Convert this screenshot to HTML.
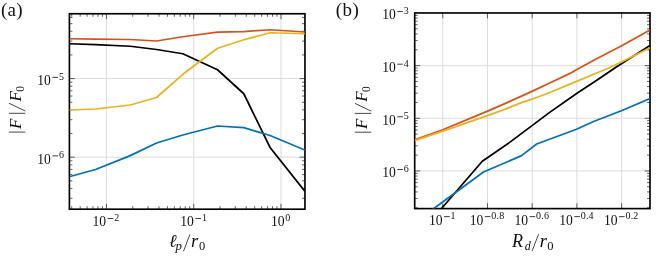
<!DOCTYPE html>
<html><head><meta charset="utf-8"><title>plot</title>
<style>
html,body{margin:0;padding:0;background:#fff;}
body{width:664px;height:260px;overflow:hidden;font-family:"Liberation Serif",serif;}
svg{display:block;will-change:transform;}
text{font-family:"Liberation Serif",serif;fill:#111;}
.it{font-style:italic;}
</style></head><body>
<svg width="664" height="260" viewBox="0 0 664 260">
<rect x="0" y="0" width="664" height="260" fill="#ffffff"/>
<clipPath id="clip1"><rect x="69.4" y="13.75" width="235.55" height="195.45"/></clipPath>
<line x1="106.45" y1="13.75" x2="106.45" y2="209.2" stroke="#dcdcdc" stroke-width="1"/>
<line x1="193.71" y1="13.75" x2="193.71" y2="209.2" stroke="#dcdcdc" stroke-width="1"/>
<line x1="280.97" y1="13.75" x2="280.97" y2="209.2" stroke="#dcdcdc" stroke-width="1"/>
<line x1="69.4" y1="78.6" x2="304.95" y2="78.6" stroke="#dcdcdc" stroke-width="1"/>
<line x1="69.4" y1="157.2" x2="304.95" y2="157.2" stroke="#dcdcdc" stroke-width="1"/>
<line x1="106.45" y1="209.2" x2="106.45" y2="203.8" stroke="#222" stroke-width="0.7"/>
<line x1="106.45" y1="13.75" x2="106.45" y2="19.15" stroke="#222" stroke-width="0.7"/>
<line x1="193.71" y1="209.2" x2="193.71" y2="203.8" stroke="#222" stroke-width="0.7"/>
<line x1="193.71" y1="13.75" x2="193.71" y2="19.15" stroke="#222" stroke-width="0.7"/>
<line x1="280.97" y1="209.2" x2="280.97" y2="203.8" stroke="#222" stroke-width="0.7"/>
<line x1="280.97" y1="13.75" x2="280.97" y2="19.15" stroke="#222" stroke-width="0.7"/>
<line x1="71.73" y1="209.2" x2="71.73" y2="206.2" stroke="#222" stroke-width="0.7"/>
<line x1="71.73" y1="13.75" x2="71.73" y2="16.75" stroke="#222" stroke-width="0.7"/>
<line x1="80.18" y1="209.2" x2="80.18" y2="206.2" stroke="#222" stroke-width="0.7"/>
<line x1="80.18" y1="13.75" x2="80.18" y2="16.75" stroke="#222" stroke-width="0.7"/>
<line x1="87.09" y1="209.2" x2="87.09" y2="206.2" stroke="#222" stroke-width="0.7"/>
<line x1="87.09" y1="13.75" x2="87.09" y2="16.75" stroke="#222" stroke-width="0.7"/>
<line x1="92.93" y1="209.2" x2="92.93" y2="206.2" stroke="#222" stroke-width="0.7"/>
<line x1="92.93" y1="13.75" x2="92.93" y2="16.75" stroke="#222" stroke-width="0.7"/>
<line x1="97.99" y1="209.2" x2="97.99" y2="206.2" stroke="#222" stroke-width="0.7"/>
<line x1="97.99" y1="13.75" x2="97.99" y2="16.75" stroke="#222" stroke-width="0.7"/>
<line x1="102.46" y1="209.2" x2="102.46" y2="206.2" stroke="#222" stroke-width="0.7"/>
<line x1="102.46" y1="13.75" x2="102.46" y2="16.75" stroke="#222" stroke-width="0.7"/>
<line x1="132.72" y1="209.2" x2="132.72" y2="206.2" stroke="#222" stroke-width="0.7"/>
<line x1="132.72" y1="13.75" x2="132.72" y2="16.75" stroke="#222" stroke-width="0.7"/>
<line x1="148.08" y1="209.2" x2="148.08" y2="206.2" stroke="#222" stroke-width="0.7"/>
<line x1="148.08" y1="13.75" x2="148.08" y2="16.75" stroke="#222" stroke-width="0.7"/>
<line x1="158.99" y1="209.2" x2="158.99" y2="206.2" stroke="#222" stroke-width="0.7"/>
<line x1="158.99" y1="13.75" x2="158.99" y2="16.75" stroke="#222" stroke-width="0.7"/>
<line x1="167.44" y1="209.2" x2="167.44" y2="206.2" stroke="#222" stroke-width="0.7"/>
<line x1="167.44" y1="13.75" x2="167.44" y2="16.75" stroke="#222" stroke-width="0.7"/>
<line x1="174.35" y1="209.2" x2="174.35" y2="206.2" stroke="#222" stroke-width="0.7"/>
<line x1="174.35" y1="13.75" x2="174.35" y2="16.75" stroke="#222" stroke-width="0.7"/>
<line x1="180.19" y1="209.2" x2="180.19" y2="206.2" stroke="#222" stroke-width="0.7"/>
<line x1="180.19" y1="13.75" x2="180.19" y2="16.75" stroke="#222" stroke-width="0.7"/>
<line x1="185.25" y1="209.2" x2="185.25" y2="206.2" stroke="#222" stroke-width="0.7"/>
<line x1="185.25" y1="13.75" x2="185.25" y2="16.75" stroke="#222" stroke-width="0.7"/>
<line x1="189.72" y1="209.2" x2="189.72" y2="206.2" stroke="#222" stroke-width="0.7"/>
<line x1="189.72" y1="13.75" x2="189.72" y2="16.75" stroke="#222" stroke-width="0.7"/>
<line x1="219.98" y1="209.2" x2="219.98" y2="206.2" stroke="#222" stroke-width="0.7"/>
<line x1="219.98" y1="13.75" x2="219.98" y2="16.75" stroke="#222" stroke-width="0.7"/>
<line x1="235.34" y1="209.2" x2="235.34" y2="206.2" stroke="#222" stroke-width="0.7"/>
<line x1="235.34" y1="13.75" x2="235.34" y2="16.75" stroke="#222" stroke-width="0.7"/>
<line x1="246.25" y1="209.2" x2="246.25" y2="206.2" stroke="#222" stroke-width="0.7"/>
<line x1="246.25" y1="13.75" x2="246.25" y2="16.75" stroke="#222" stroke-width="0.7"/>
<line x1="254.7" y1="209.2" x2="254.7" y2="206.2" stroke="#222" stroke-width="0.7"/>
<line x1="254.7" y1="13.75" x2="254.7" y2="16.75" stroke="#222" stroke-width="0.7"/>
<line x1="261.61" y1="209.2" x2="261.61" y2="206.2" stroke="#222" stroke-width="0.7"/>
<line x1="261.61" y1="13.75" x2="261.61" y2="16.75" stroke="#222" stroke-width="0.7"/>
<line x1="267.45" y1="209.2" x2="267.45" y2="206.2" stroke="#222" stroke-width="0.7"/>
<line x1="267.45" y1="13.75" x2="267.45" y2="16.75" stroke="#222" stroke-width="0.7"/>
<line x1="272.51" y1="209.2" x2="272.51" y2="206.2" stroke="#222" stroke-width="0.7"/>
<line x1="272.51" y1="13.75" x2="272.51" y2="16.75" stroke="#222" stroke-width="0.7"/>
<line x1="276.98" y1="209.2" x2="276.98" y2="206.2" stroke="#222" stroke-width="0.7"/>
<line x1="276.98" y1="13.75" x2="276.98" y2="16.75" stroke="#222" stroke-width="0.7"/>
<line x1="69.4" y1="78.6" x2="74.8" y2="78.6" stroke="#222" stroke-width="0.7"/>
<line x1="304.95" y1="78.6" x2="299.55" y2="78.6" stroke="#222" stroke-width="0.7"/>
<line x1="69.4" y1="157.2" x2="74.8" y2="157.2" stroke="#222" stroke-width="0.7"/>
<line x1="304.95" y1="157.2" x2="299.55" y2="157.2" stroke="#222" stroke-width="0.7"/>
<line x1="69.4" y1="198.3" x2="72.4" y2="198.3" stroke="#222" stroke-width="0.7"/>
<line x1="304.95" y1="198.3" x2="301.95" y2="198.3" stroke="#222" stroke-width="0.7"/>
<line x1="69.4" y1="188.48" x2="72.4" y2="188.48" stroke="#222" stroke-width="0.7"/>
<line x1="304.95" y1="188.48" x2="301.95" y2="188.48" stroke="#222" stroke-width="0.7"/>
<line x1="69.4" y1="180.86" x2="72.4" y2="180.86" stroke="#222" stroke-width="0.7"/>
<line x1="304.95" y1="180.86" x2="301.95" y2="180.86" stroke="#222" stroke-width="0.7"/>
<line x1="69.4" y1="174.64" x2="72.4" y2="174.64" stroke="#222" stroke-width="0.7"/>
<line x1="304.95" y1="174.64" x2="301.95" y2="174.64" stroke="#222" stroke-width="0.7"/>
<line x1="69.4" y1="169.38" x2="72.4" y2="169.38" stroke="#222" stroke-width="0.7"/>
<line x1="304.95" y1="169.38" x2="301.95" y2="169.38" stroke="#222" stroke-width="0.7"/>
<line x1="69.4" y1="164.82" x2="72.4" y2="164.82" stroke="#222" stroke-width="0.7"/>
<line x1="304.95" y1="164.82" x2="301.95" y2="164.82" stroke="#222" stroke-width="0.7"/>
<line x1="69.4" y1="160.8" x2="72.4" y2="160.8" stroke="#222" stroke-width="0.7"/>
<line x1="304.95" y1="160.8" x2="301.95" y2="160.8" stroke="#222" stroke-width="0.7"/>
<line x1="69.4" y1="133.54" x2="72.4" y2="133.54" stroke="#222" stroke-width="0.7"/>
<line x1="304.95" y1="133.54" x2="301.95" y2="133.54" stroke="#222" stroke-width="0.7"/>
<line x1="69.4" y1="119.7" x2="72.4" y2="119.7" stroke="#222" stroke-width="0.7"/>
<line x1="304.95" y1="119.7" x2="301.95" y2="119.7" stroke="#222" stroke-width="0.7"/>
<line x1="69.4" y1="109.88" x2="72.4" y2="109.88" stroke="#222" stroke-width="0.7"/>
<line x1="304.95" y1="109.88" x2="301.95" y2="109.88" stroke="#222" stroke-width="0.7"/>
<line x1="69.4" y1="102.26" x2="72.4" y2="102.26" stroke="#222" stroke-width="0.7"/>
<line x1="304.95" y1="102.26" x2="301.95" y2="102.26" stroke="#222" stroke-width="0.7"/>
<line x1="69.4" y1="96.04" x2="72.4" y2="96.04" stroke="#222" stroke-width="0.7"/>
<line x1="304.95" y1="96.04" x2="301.95" y2="96.04" stroke="#222" stroke-width="0.7"/>
<line x1="69.4" y1="90.78" x2="72.4" y2="90.78" stroke="#222" stroke-width="0.7"/>
<line x1="304.95" y1="90.78" x2="301.95" y2="90.78" stroke="#222" stroke-width="0.7"/>
<line x1="69.4" y1="86.22" x2="72.4" y2="86.22" stroke="#222" stroke-width="0.7"/>
<line x1="304.95" y1="86.22" x2="301.95" y2="86.22" stroke="#222" stroke-width="0.7"/>
<line x1="69.4" y1="82.2" x2="72.4" y2="82.2" stroke="#222" stroke-width="0.7"/>
<line x1="304.95" y1="82.2" x2="301.95" y2="82.2" stroke="#222" stroke-width="0.7"/>
<line x1="69.4" y1="54.94" x2="72.4" y2="54.94" stroke="#222" stroke-width="0.7"/>
<line x1="304.95" y1="54.94" x2="301.95" y2="54.94" stroke="#222" stroke-width="0.7"/>
<line x1="69.4" y1="41.1" x2="72.4" y2="41.1" stroke="#222" stroke-width="0.7"/>
<line x1="304.95" y1="41.1" x2="301.95" y2="41.1" stroke="#222" stroke-width="0.7"/>
<line x1="69.4" y1="31.28" x2="72.4" y2="31.28" stroke="#222" stroke-width="0.7"/>
<line x1="304.95" y1="31.28" x2="301.95" y2="31.28" stroke="#222" stroke-width="0.7"/>
<line x1="69.4" y1="23.66" x2="72.4" y2="23.66" stroke="#222" stroke-width="0.7"/>
<line x1="304.95" y1="23.66" x2="301.95" y2="23.66" stroke="#222" stroke-width="0.7"/>
<line x1="69.4" y1="17.44" x2="72.4" y2="17.44" stroke="#222" stroke-width="0.7"/>
<line x1="304.95" y1="17.44" x2="301.95" y2="17.44" stroke="#222" stroke-width="0.7"/>
<rect x="69.4" y="13.75" width="235.55" height="195.45" fill="none" stroke="#000" stroke-width="1.65"/>
<polyline points="69.28,43.75 95.55,44.6 130.27,46.25 156.54,49.5 182.81,53.75 217.53,69.75 243.8,93.75 270.07,147.5 304.79,191.25" fill="none" stroke="#000000" stroke-width="1.75" stroke-linejoin="round" stroke-linecap="butt" clip-path="url(#clip1)"/>
<polyline points="69.28,176.75 95.55,169.5 130.27,155.6 156.54,143 182.81,135 217.53,126 243.8,127.7 270.07,135.5 304.79,150" fill="none" stroke="#0072BD" stroke-width="1.75" stroke-linejoin="round" stroke-linecap="butt" clip-path="url(#clip1)"/>
<polyline points="69.28,38.75 95.55,39.1 130.27,39.5 156.54,41 182.81,36.75 217.53,32.2 243.8,31.6 270.07,29.75 304.79,32" fill="none" stroke="#D95319" stroke-width="1.75" stroke-linejoin="round" stroke-linecap="butt" clip-path="url(#clip1)"/>
<polyline points="69.28,110 95.55,109 130.27,105 156.54,97.5 182.81,74.3 217.53,48.25 243.8,39.75 270.07,32.75 304.79,33.75" fill="none" stroke="#EDB120" stroke-width="1.75" stroke-linejoin="round" stroke-linecap="butt" clip-path="url(#clip1)"/>
<text x="92.55" y="226.4" font-size="14.2px" textLength="13.6" lengthAdjust="spacingAndGlyphs">10</text><rect x="107.65" y="218.1" width="5.6" height="0.8" fill="#111"/><text x="114.15" y="220.9" font-size="10px">2</text>
<text x="180.31" y="226.4" font-size="14.2px" textLength="13.6" lengthAdjust="spacingAndGlyphs">10</text><rect x="195.41" y="218.1" width="5.6" height="0.8" fill="#111"/><text x="201.91" y="220.9" font-size="10px">1</text>
<text x="37.3" y="85.2" font-size="14.2px" textLength="13.6" lengthAdjust="spacingAndGlyphs">10</text><rect x="52.4" y="76.9" width="5.6" height="0.8" fill="#111"/><text x="58.9" y="79.7" font-size="10px">5</text>
<text x="37.3" y="163.8" font-size="14.2px" textLength="13.6" lengthAdjust="spacingAndGlyphs">10</text><rect x="52.4" y="155.5" width="5.6" height="0.8" fill="#111"/><text x="58.9" y="158.3" font-size="10px">6</text>
<text x="270.97" y="226.4" font-size="14.2px" textLength="13.6" lengthAdjust="spacingAndGlyphs">10</text><text x="285.17" y="220.9" font-size="10px">0</text>
<clipPath id="clip2"><rect x="414.7" y="12.96" width="235.3" height="195.64"/></clipPath>
<line x1="442.75" y1="12.96" x2="442.75" y2="208.6" stroke="#dcdcdc" stroke-width="1"/>
<line x1="487.47" y1="12.96" x2="487.47" y2="208.6" stroke="#dcdcdc" stroke-width="1"/>
<line x1="532.19" y1="12.96" x2="532.19" y2="208.6" stroke="#dcdcdc" stroke-width="1"/>
<line x1="576.91" y1="12.96" x2="576.91" y2="208.6" stroke="#dcdcdc" stroke-width="1"/>
<line x1="621.63" y1="12.96" x2="621.63" y2="208.6" stroke="#dcdcdc" stroke-width="1"/>
<line x1="414.7" y1="65.65" x2="650" y2="65.65" stroke="#dcdcdc" stroke-width="1"/>
<line x1="414.7" y1="118.3" x2="650" y2="118.3" stroke="#dcdcdc" stroke-width="1"/>
<line x1="414.7" y1="170.95" x2="650" y2="170.95" stroke="#dcdcdc" stroke-width="1"/>
<line x1="442.75" y1="208.6" x2="442.75" y2="203.2" stroke="#222" stroke-width="0.7"/>
<line x1="442.75" y1="12.96" x2="442.75" y2="18.36" stroke="#222" stroke-width="0.7"/>
<line x1="487.47" y1="208.6" x2="487.47" y2="203.2" stroke="#222" stroke-width="0.7"/>
<line x1="487.47" y1="12.96" x2="487.47" y2="18.36" stroke="#222" stroke-width="0.7"/>
<line x1="532.19" y1="208.6" x2="532.19" y2="203.2" stroke="#222" stroke-width="0.7"/>
<line x1="532.19" y1="12.96" x2="532.19" y2="18.36" stroke="#222" stroke-width="0.7"/>
<line x1="576.91" y1="208.6" x2="576.91" y2="203.2" stroke="#222" stroke-width="0.7"/>
<line x1="576.91" y1="12.96" x2="576.91" y2="18.36" stroke="#222" stroke-width="0.7"/>
<line x1="621.63" y1="208.6" x2="621.63" y2="203.2" stroke="#222" stroke-width="0.7"/>
<line x1="621.63" y1="12.96" x2="621.63" y2="18.36" stroke="#222" stroke-width="0.7"/>
<line x1="414.7" y1="65.65" x2="420.1" y2="65.65" stroke="#222" stroke-width="0.7"/>
<line x1="650" y1="65.65" x2="644.6" y2="65.65" stroke="#222" stroke-width="0.7"/>
<line x1="414.7" y1="118.3" x2="420.1" y2="118.3" stroke="#222" stroke-width="0.7"/>
<line x1="650" y1="118.3" x2="644.6" y2="118.3" stroke="#222" stroke-width="0.7"/>
<line x1="414.7" y1="170.95" x2="420.1" y2="170.95" stroke="#222" stroke-width="0.7"/>
<line x1="650" y1="170.95" x2="644.6" y2="170.95" stroke="#222" stroke-width="0.7"/>
<line x1="414.7" y1="207.75" x2="417.7" y2="207.75" stroke="#222" stroke-width="0.7"/>
<line x1="650" y1="207.75" x2="647" y2="207.75" stroke="#222" stroke-width="0.7"/>
<line x1="414.7" y1="198.48" x2="417.7" y2="198.48" stroke="#222" stroke-width="0.7"/>
<line x1="650" y1="198.48" x2="647" y2="198.48" stroke="#222" stroke-width="0.7"/>
<line x1="414.7" y1="191.9" x2="417.7" y2="191.9" stroke="#222" stroke-width="0.7"/>
<line x1="650" y1="191.9" x2="647" y2="191.9" stroke="#222" stroke-width="0.7"/>
<line x1="414.7" y1="186.8" x2="417.7" y2="186.8" stroke="#222" stroke-width="0.7"/>
<line x1="650" y1="186.8" x2="647" y2="186.8" stroke="#222" stroke-width="0.7"/>
<line x1="414.7" y1="182.63" x2="417.7" y2="182.63" stroke="#222" stroke-width="0.7"/>
<line x1="650" y1="182.63" x2="647" y2="182.63" stroke="#222" stroke-width="0.7"/>
<line x1="414.7" y1="179.11" x2="417.7" y2="179.11" stroke="#222" stroke-width="0.7"/>
<line x1="650" y1="179.11" x2="647" y2="179.11" stroke="#222" stroke-width="0.7"/>
<line x1="414.7" y1="176.05" x2="417.7" y2="176.05" stroke="#222" stroke-width="0.7"/>
<line x1="650" y1="176.05" x2="647" y2="176.05" stroke="#222" stroke-width="0.7"/>
<line x1="414.7" y1="173.36" x2="417.7" y2="173.36" stroke="#222" stroke-width="0.7"/>
<line x1="650" y1="173.36" x2="647" y2="173.36" stroke="#222" stroke-width="0.7"/>
<line x1="414.7" y1="155.1" x2="417.7" y2="155.1" stroke="#222" stroke-width="0.7"/>
<line x1="650" y1="155.1" x2="647" y2="155.1" stroke="#222" stroke-width="0.7"/>
<line x1="414.7" y1="145.83" x2="417.7" y2="145.83" stroke="#222" stroke-width="0.7"/>
<line x1="650" y1="145.83" x2="647" y2="145.83" stroke="#222" stroke-width="0.7"/>
<line x1="414.7" y1="139.25" x2="417.7" y2="139.25" stroke="#222" stroke-width="0.7"/>
<line x1="650" y1="139.25" x2="647" y2="139.25" stroke="#222" stroke-width="0.7"/>
<line x1="414.7" y1="134.15" x2="417.7" y2="134.15" stroke="#222" stroke-width="0.7"/>
<line x1="650" y1="134.15" x2="647" y2="134.15" stroke="#222" stroke-width="0.7"/>
<line x1="414.7" y1="129.98" x2="417.7" y2="129.98" stroke="#222" stroke-width="0.7"/>
<line x1="650" y1="129.98" x2="647" y2="129.98" stroke="#222" stroke-width="0.7"/>
<line x1="414.7" y1="126.46" x2="417.7" y2="126.46" stroke="#222" stroke-width="0.7"/>
<line x1="650" y1="126.46" x2="647" y2="126.46" stroke="#222" stroke-width="0.7"/>
<line x1="414.7" y1="123.4" x2="417.7" y2="123.4" stroke="#222" stroke-width="0.7"/>
<line x1="650" y1="123.4" x2="647" y2="123.4" stroke="#222" stroke-width="0.7"/>
<line x1="414.7" y1="120.71" x2="417.7" y2="120.71" stroke="#222" stroke-width="0.7"/>
<line x1="650" y1="120.71" x2="647" y2="120.71" stroke="#222" stroke-width="0.7"/>
<line x1="414.7" y1="102.45" x2="417.7" y2="102.45" stroke="#222" stroke-width="0.7"/>
<line x1="650" y1="102.45" x2="647" y2="102.45" stroke="#222" stroke-width="0.7"/>
<line x1="414.7" y1="93.18" x2="417.7" y2="93.18" stroke="#222" stroke-width="0.7"/>
<line x1="650" y1="93.18" x2="647" y2="93.18" stroke="#222" stroke-width="0.7"/>
<line x1="414.7" y1="86.6" x2="417.7" y2="86.6" stroke="#222" stroke-width="0.7"/>
<line x1="650" y1="86.6" x2="647" y2="86.6" stroke="#222" stroke-width="0.7"/>
<line x1="414.7" y1="81.5" x2="417.7" y2="81.5" stroke="#222" stroke-width="0.7"/>
<line x1="650" y1="81.5" x2="647" y2="81.5" stroke="#222" stroke-width="0.7"/>
<line x1="414.7" y1="77.33" x2="417.7" y2="77.33" stroke="#222" stroke-width="0.7"/>
<line x1="650" y1="77.33" x2="647" y2="77.33" stroke="#222" stroke-width="0.7"/>
<line x1="414.7" y1="73.81" x2="417.7" y2="73.81" stroke="#222" stroke-width="0.7"/>
<line x1="650" y1="73.81" x2="647" y2="73.81" stroke="#222" stroke-width="0.7"/>
<line x1="414.7" y1="70.75" x2="417.7" y2="70.75" stroke="#222" stroke-width="0.7"/>
<line x1="650" y1="70.75" x2="647" y2="70.75" stroke="#222" stroke-width="0.7"/>
<line x1="414.7" y1="68.06" x2="417.7" y2="68.06" stroke="#222" stroke-width="0.7"/>
<line x1="650" y1="68.06" x2="647" y2="68.06" stroke="#222" stroke-width="0.7"/>
<line x1="414.7" y1="49.8" x2="417.7" y2="49.8" stroke="#222" stroke-width="0.7"/>
<line x1="650" y1="49.8" x2="647" y2="49.8" stroke="#222" stroke-width="0.7"/>
<line x1="414.7" y1="40.53" x2="417.7" y2="40.53" stroke="#222" stroke-width="0.7"/>
<line x1="650" y1="40.53" x2="647" y2="40.53" stroke="#222" stroke-width="0.7"/>
<line x1="414.7" y1="33.95" x2="417.7" y2="33.95" stroke="#222" stroke-width="0.7"/>
<line x1="650" y1="33.95" x2="647" y2="33.95" stroke="#222" stroke-width="0.7"/>
<line x1="414.7" y1="28.85" x2="417.7" y2="28.85" stroke="#222" stroke-width="0.7"/>
<line x1="650" y1="28.85" x2="647" y2="28.85" stroke="#222" stroke-width="0.7"/>
<line x1="414.7" y1="24.68" x2="417.7" y2="24.68" stroke="#222" stroke-width="0.7"/>
<line x1="650" y1="24.68" x2="647" y2="24.68" stroke="#222" stroke-width="0.7"/>
<line x1="414.7" y1="21.16" x2="417.7" y2="21.16" stroke="#222" stroke-width="0.7"/>
<line x1="650" y1="21.16" x2="647" y2="21.16" stroke="#222" stroke-width="0.7"/>
<line x1="414.7" y1="18.1" x2="417.7" y2="18.1" stroke="#222" stroke-width="0.7"/>
<line x1="650" y1="18.1" x2="647" y2="18.1" stroke="#222" stroke-width="0.7"/>
<line x1="414.7" y1="15.41" x2="417.7" y2="15.41" stroke="#222" stroke-width="0.7"/>
<line x1="650" y1="15.41" x2="647" y2="15.41" stroke="#222" stroke-width="0.7"/>
<rect x="414.7" y="12.96" width="235.3" height="195.64" fill="none" stroke="#000" stroke-width="1.65"/>
<polyline points="437,213.7 442.2,207.7 482.3,161.2 510,142.1 531.7,125.9 549.3,112.6 577,93.2 599,78.7 616.7,66.8 631.6,57.2 650,45.4" fill="none" stroke="#000000" stroke-width="1.75" stroke-linejoin="round" stroke-linecap="butt" clip-path="url(#clip2)"/>
<polyline points="428,212.7 434.8,207.7 483.5,172 521.6,155.6 536.7,144 576.5,129.3 593,121.75 622,110.5 650,98.5" fill="none" stroke="#0072BD" stroke-width="1.75" stroke-linejoin="round" stroke-linecap="butt" clip-path="url(#clip2)"/>
<polyline points="414.7,139.7 442.8,129.75 487.6,111.1 506,103.1 531.9,91.4 549.2,83.2 570,73.4 576.4,69.8 596.6,58.7 621.7,45.75 650,29.9" fill="none" stroke="#D95319" stroke-width="1.75" stroke-linejoin="round" stroke-linecap="butt" clip-path="url(#clip2)"/>
<polyline points="414.7,140.7 442.8,131.1 487.5,115.6 506,108.85 521.5,102.6 531.9,99.2 549.2,92.8 570,84.1 607,68.8 621.7,61.85 650,47.8" fill="none" stroke="#EDB120" stroke-width="1.75" stroke-linejoin="round" stroke-linecap="butt" clip-path="url(#clip2)"/>
<text x="428.95" y="224.6" font-size="14.2px" textLength="13.6" lengthAdjust="spacingAndGlyphs">10</text><rect x="444.05" y="216.3" width="5.6" height="0.8" fill="#111"/><text x="450.55" y="219.1" font-size="10px">1</text>
<text x="469.77" y="224.6" font-size="14.2px" textLength="13.6" lengthAdjust="spacingAndGlyphs">10</text><rect x="484.87" y="216.3" width="5.6" height="0.8" fill="#111"/><text x="491.37" y="219.1" font-size="10px">0</text><text x="496.47" y="219.1" font-size="10px">.</text><text x="499.17" y="219.1" font-size="10px">8</text>
<text x="514.49" y="224.6" font-size="14.2px" textLength="13.6" lengthAdjust="spacingAndGlyphs">10</text><rect x="529.59" y="216.3" width="5.6" height="0.8" fill="#111"/><text x="536.09" y="219.1" font-size="10px">0</text><text x="541.19" y="219.1" font-size="10px">.</text><text x="543.89" y="219.1" font-size="10px">6</text>
<text x="559.21" y="224.6" font-size="14.2px" textLength="13.6" lengthAdjust="spacingAndGlyphs">10</text><rect x="574.31" y="216.3" width="5.6" height="0.8" fill="#111"/><text x="580.81" y="219.1" font-size="10px">0</text><text x="585.91" y="219.1" font-size="10px">.</text><text x="588.61" y="219.1" font-size="10px">4</text>
<text x="603.93" y="224.6" font-size="14.2px" textLength="13.6" lengthAdjust="spacingAndGlyphs">10</text><rect x="619.03" y="216.3" width="5.6" height="0.8" fill="#111"/><text x="625.53" y="219.1" font-size="10px">0</text><text x="630.63" y="219.1" font-size="10px">.</text><text x="633.33" y="219.1" font-size="10px">2</text>
<text x="382.2" y="19.4" font-size="14.2px" textLength="13.6" lengthAdjust="spacingAndGlyphs">10</text><rect x="397.3" y="11.1" width="5.6" height="0.8" fill="#111"/><text x="403.8" y="13.9" font-size="10px">3</text>
<text x="382.2" y="72.05" font-size="14.2px" textLength="13.6" lengthAdjust="spacingAndGlyphs">10</text><rect x="397.3" y="63.75" width="5.6" height="0.8" fill="#111"/><text x="403.8" y="66.55" font-size="10px">4</text>
<text x="382.2" y="124.7" font-size="14.2px" textLength="13.6" lengthAdjust="spacingAndGlyphs">10</text><rect x="397.3" y="116.4" width="5.6" height="0.8" fill="#111"/><text x="403.8" y="119.2" font-size="10px">5</text>
<text x="382.2" y="177.35" font-size="14.2px" textLength="13.6" lengthAdjust="spacingAndGlyphs">10</text><rect x="397.3" y="169.05" width="5.6" height="0.8" fill="#111"/><text x="403.8" y="171.85" font-size="10px">6</text>
<text x="0.9" y="15.8" font-size="19px" letter-spacing="0.3">(a)</text>
<text x="335.7" y="15.8" font-size="19px" letter-spacing="0.5">(b)</text>
<text class="it" x="169.0" y="247.3" font-size="18px">ℓ</text>
<text class="it" x="175.6" y="250.0" font-size="13px">p</text>
<line x1="183.5" y1="251.2" x2="189.9" y2="234.4" stroke="#1a1a1a" stroke-width="0.8"/>
<text class="it" x="191.0" y="247.3" font-size="18.5px">r</text>
<text x="198.9" y="250.3" font-size="12.5px">0</text>
<text class="it" x="512.1" y="247.3" font-size="18px">R</text>
<text class="it" x="524.8" y="249.6" font-size="12px">d</text>
<line x1="532" y1="251.2" x2="538.6" y2="234.2" stroke="#1a1a1a" stroke-width="0.8"/>
<text class="it" x="539.8" y="247.3" font-size="18.5px">r</text>
<text x="547.3" y="250.3" font-size="12.5px">0</text>
<g transform="translate(21.3,112.1) rotate(-90)">
<line x1="-20" y1="4" x2="-20" y2="-12.4" stroke="#1a1a1a" stroke-width="0.8"/>
<text class="it" x="-16.9" y="0" font-size="17px">F</text>
<line x1="-1.2" y1="4" x2="-1.2" y2="-12.4" stroke="#1a1a1a" stroke-width="0.8"/>
<line x1="1.1" y1="4" x2="8.9" y2="-12.4" stroke="#1a1a1a" stroke-width="0.8"/>
<text class="it" x="10.5" y="0" font-size="17px">F</text>
<text x="20.3" y="3" font-size="11.5px">0</text>
</g>
<g transform="translate(367.2,112.2) rotate(-90)">
<line x1="-20" y1="4" x2="-20" y2="-12.4" stroke="#1a1a1a" stroke-width="0.8"/>
<text class="it" x="-16.9" y="0" font-size="17px">F</text>
<line x1="-1.2" y1="4" x2="-1.2" y2="-12.4" stroke="#1a1a1a" stroke-width="0.8"/>
<line x1="1.1" y1="4" x2="8.9" y2="-12.4" stroke="#1a1a1a" stroke-width="0.8"/>
<text class="it" x="10.5" y="0" font-size="17px">F</text>
<text x="20.3" y="3" font-size="11.5px">0</text>
</g>
</svg>
</body></html>
